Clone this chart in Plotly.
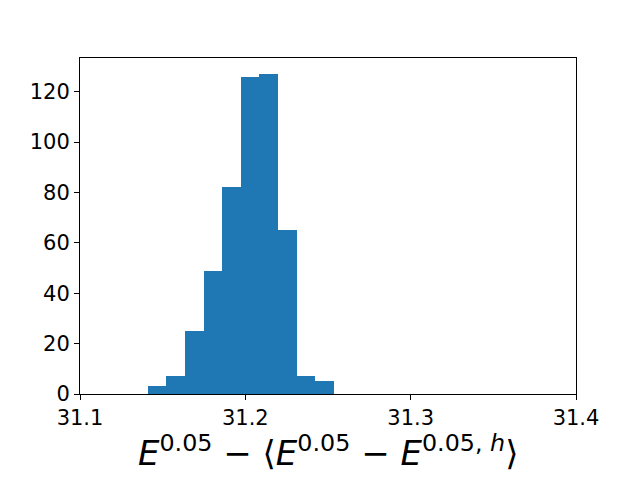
import plotly.graph_objects as go

bin_left = 31.14095
bin_width = 0.01125
counts = [3, 7, 25, 49, 82, 126, 127, 65, 7, 5]
x_ticks = [31.1, 31.2, 31.3, 31.4]
x_tick_labels = ["31.1", "31.2", "31.3", "31.4"]
y_ticks = [0, 20, 40, 60, 80, 100, 120]

centers = [bin_left + bin_width * (i + 0.5) for i in range(len(counts))]

fig = go.Figure(go.Bar(
    x=centers, y=counts, width=[bin_width] * len(counts),
    marker=dict(color="#1f77b4", line=dict(width=0)),
))

axis_common = dict(
    showline=True, linecolor="black", linewidth=1.1, mirror=True,
    ticks="outside", ticklen=5, tickwidth=1.1, tickcolor="black",
    showgrid=False, zeroline=False,
    tickfont=dict(family="DejaVu Sans", size=21, color="black"),
)

fig.update_layout(
    width=640, height=480,
    margin=dict(l=80, r=64, t=58, b=86),
    paper_bgcolor="white", plot_bgcolor="white",
    showlegend=False, bargap=0,
    xaxis=dict(range=[31.1, 31.4], tickvals=x_ticks, ticktext=x_tick_labels, **axis_common),
    yaxis=dict(range=[0, max(counts) * 1.05], tickvals=y_ticks, **axis_common),
)

fig.add_annotation(
    text="<i>E</i><sup>0.05</sup> − ⟨<i>E</i><sup>0.05</sup> − <i>E</i><sup>0.05, <i>h</i></sup>⟩",
    xref="paper", yref="paper", x=0.5, y=0, yshift=-33, yanchor="top",
    showarrow=False, font=dict(family="DejaVu Sans", size=34, color="black"),
)

fig.write_html(
    "out.html",
    config={"displayModeBar": False},
    post_script="document.body.style.margin='0';document.body.style.padding='0';",
)
